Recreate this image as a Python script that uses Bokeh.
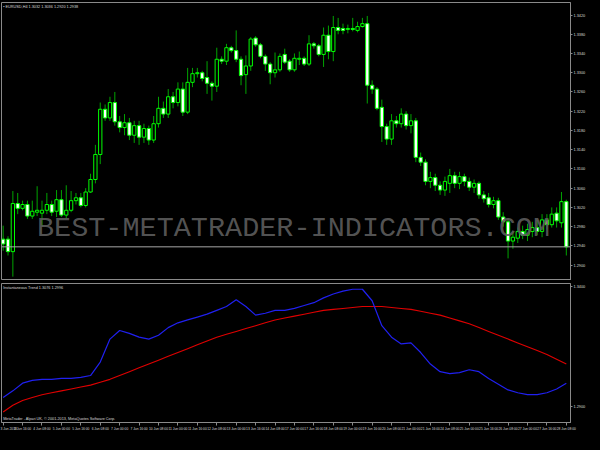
from bokeh.plotting import figure
from bokeh.models import Range1d, FixedTicker, NumeralTickFormatter, ColumnDataSource, Span, Label
from bokeh.layouts import column
from bokeh.embed import file_html
from bokeh.resources import INLINE

symbol = "EURUSD,H4"

opens = [
    1.2954, 1.2954, 1.2928, 1.3028, 1.3018, 1.3026, 1.3002, 1.3010, 1.3008, 1.3014,
    1.3026, 1.3012, 1.3036, 1.3004, 1.3014, 1.3034, 1.3040, 1.3024, 1.3052, 1.3078,
    1.3130, 1.3224, 1.3206, 1.3238, 1.3198, 1.3186, 1.3196, 1.3170, 1.3190, 1.3166,
    1.3184, 1.3160, 1.3194, 1.3226, 1.3214, 1.3250, 1.3238, 1.3266, 1.3218, 1.3280,
    1.3298, 1.3300, 1.3290, 1.3278, 1.3272, 1.3328, 1.3324, 1.3352, 1.3346, 1.3328,
    1.3296, 1.3314, 1.3372, 1.3358, 1.3334, 1.3318, 1.3300, 1.3306, 1.3338, 1.3324,
    1.3306, 1.3328, 1.3330, 1.3318, 1.3360, 1.3356, 1.3338, 1.3378, 1.3344, 1.3394,
    1.3392, 1.3390, 1.3392, 1.3388, 1.3396, 1.3402, 1.3274, 1.3266, 1.3228, 1.3188,
    1.3162, 1.3200, 1.3194, 1.3214, 1.3190, 1.3200, 1.3124, 1.3114, 1.3074, 1.3082,
    1.3066, 1.3056, 1.3070, 1.3086, 1.3070, 1.3084, 1.3074, 1.3062, 1.3070, 1.3046,
    1.3040, 1.3026, 1.3034, 1.3000, 1.2990, 1.2950, 1.2956, 1.2970, 1.2962, 1.2970,
    1.2978, 1.2970, 1.2994, 1.2984, 1.3008, 1.2988, 1.3032,
]
highs = [
    1.2982, 1.2960, 1.3054, 1.3050, 1.3034, 1.3034, 1.3034, 1.3064, 1.3034, 1.3050,
    1.3034, 1.3056, 1.3056, 1.3066, 1.3054, 1.3050, 1.3050, 1.3060, 1.3090, 1.3150,
    1.3238, 1.3234, 1.3250, 1.3260, 1.3210, 1.3214, 1.3206, 1.3200, 1.3200, 1.3194,
    1.3190, 1.3210, 1.3250, 1.3240, 1.3266, 1.3260, 1.3280, 1.3280, 1.3310, 1.3310,
    1.3310, 1.3304, 1.3324, 1.3282, 1.3352, 1.3334, 1.3360, 1.3356, 1.3388, 1.3334,
    1.3336, 1.3374, 1.3376, 1.3362, 1.3338, 1.3322, 1.3342, 1.3340, 1.3350, 1.3328,
    1.3340, 1.3344, 1.3334, 1.3378, 1.3364, 1.3360, 1.3394, 1.3398, 1.3418, 1.3414,
    1.3402, 1.3400, 1.3414, 1.3406, 1.3414, 1.3418, 1.3284, 1.3270, 1.3244, 1.3194,
    1.3214, 1.3210, 1.3226, 1.3220, 1.3214, 1.3206, 1.3134, 1.3120, 1.3094, 1.3090,
    1.3074, 1.3084, 1.3100, 1.3094, 1.3094, 1.3090, 1.3082, 1.3078, 1.3074, 1.3054,
    1.3050, 1.3042, 1.3040, 1.3010, 1.2998, 1.2970, 1.2978, 1.2982, 1.2986, 1.2990,
    1.2994, 1.3006, 1.3006, 1.3020, 1.3020, 1.3052, 1.3036,
]
lows = [
    1.2930, 1.2920, 1.2876, 1.3006, 1.3014, 1.2996, 1.2996, 1.3002, 1.2980, 1.3006,
    1.3002, 1.3000, 1.3000, 1.2998, 1.3010, 1.3026, 1.3020, 1.3020, 1.3050, 1.3070,
    1.3110, 1.3200, 1.3200, 1.3190, 1.3176, 1.3170, 1.3160, 1.3154, 1.3150, 1.3154,
    1.3150, 1.3154, 1.3186, 1.3206, 1.3206, 1.3226, 1.3230, 1.3210, 1.3214, 1.3270,
    1.3290, 1.3282, 1.3256, 1.3242, 1.3260, 1.3318, 1.3316, 1.3342, 1.3322, 1.3274,
    1.3256, 1.3304, 1.3354, 1.3330, 1.3304, 1.3276, 1.3290, 1.3302, 1.3318, 1.3302,
    1.3302, 1.3316, 1.3314, 1.3314, 1.3350, 1.3334, 1.3312, 1.3328, 1.3324, 1.3380,
    1.3380, 1.3382, 1.3386, 1.3384, 1.3394, 1.3236, 1.3256, 1.3222, 1.3156, 1.3150,
    1.3150, 1.3186, 1.3186, 1.3182, 1.3174, 1.3114, 1.3106, 1.3066, 1.3060, 1.3054,
    1.3046, 1.3044, 1.3050, 1.3060, 1.3058, 1.3064, 1.3054, 1.3050, 1.3038, 1.3030,
    1.3020, 1.3018, 1.2994, 1.2980, 1.2914, 1.2934, 1.2946, 1.2954, 1.2950, 1.2958,
    1.2962, 1.2958, 1.2974, 1.2978, 1.2978, 1.2978, 1.2920,
]
closes = [
    1.2944, 1.2928, 1.3028, 1.3018, 1.3026, 1.3002, 1.3012, 1.3014, 1.3014, 1.3026,
    1.3010, 1.3036, 1.3004, 1.3014, 1.3034, 1.3040, 1.3024, 1.3052, 1.3078, 1.3130,
    1.3224, 1.3206, 1.3238, 1.3198, 1.3186, 1.3196, 1.3170, 1.3190, 1.3166, 1.3184,
    1.3160, 1.3194, 1.3226, 1.3214, 1.3250, 1.3238, 1.3266, 1.3218, 1.3280, 1.3298,
    1.3300, 1.3288, 1.3278, 1.3272, 1.3328, 1.3324, 1.3352, 1.3346, 1.3328, 1.3294,
    1.3314, 1.3370, 1.3358, 1.3334, 1.3318, 1.3300, 1.3306, 1.3334, 1.3322, 1.3306,
    1.3330, 1.3330, 1.3318, 1.3360, 1.3356, 1.3338, 1.3378, 1.3344, 1.3394, 1.3388,
    1.3388, 1.3392, 1.3390, 1.3396, 1.3402, 1.3274, 1.3266, 1.3226, 1.3188, 1.3162,
    1.3200, 1.3194, 1.3214, 1.3190, 1.3200, 1.3124, 1.3114, 1.3074, 1.3082, 1.3066,
    1.3056, 1.3074, 1.3086, 1.3070, 1.3084, 1.3074, 1.3062, 1.3070, 1.3046, 1.3038,
    1.3026, 1.3034, 1.3000, 1.2990, 1.2950, 1.2958, 1.2970, 1.2962, 1.2974, 1.2978,
    1.2970, 1.2994, 1.2984, 1.3006, 1.2992, 1.3032, 1.2938,
]

# Instantaneous Trend indicator, sampled every second bar
trend_blue = [
    1.2936, 1.2964, 1.2996, 1.3008, 1.3012, 1.3012, 1.3016, 1.3016, 1.3020, 1.3028,
    1.3084, 1.3180, 1.3216, 1.3204, 1.3188, 1.3180, 1.3196, 1.3228, 1.3248, 1.3260,
    1.3272, 1.3284, 1.3300, 1.3316, 1.3344, 1.3316, 1.3280, 1.3288, 1.3300, 1.3300,
    1.3308, 1.3320, 1.3332, 1.3352, 1.3368, 1.3380, 1.3388, 1.3388, 1.3340, 1.3236,
    1.3188, 1.3160, 1.3164, 1.3124, 1.3076, 1.3044, 1.3036, 1.3040, 1.3052, 1.3044,
    1.3016, 1.2992, 1.2968, 1.2956, 1.2948, 1.2948, 1.2956, 1.2972, 1.2996,
]
trend_red = [
    1.2876, 1.2904, 1.2924, 1.2936, 1.2948, 1.2956, 1.2964, 1.2972, 1.2980, 1.2988,
    1.3000, 1.3012, 1.3028, 1.3044, 1.3060, 1.3076, 1.3092, 1.3108, 1.3124, 1.3140,
    1.3156, 1.3172, 1.3188, 1.3200, 1.3212, 1.3224, 1.3236, 1.3248, 1.3260, 1.3268,
    1.3276, 1.3284, 1.3292, 1.3300, 1.3304, 1.3308, 1.3312, 1.3316, 1.3316, 1.3316,
    1.3312, 1.3308, 1.3304, 1.3296, 1.3288, 1.3280, 1.3268, 1.3256, 1.3244, 1.3228,
    1.3212, 1.3196, 1.3180, 1.3164, 1.3148, 1.3132, 1.3116, 1.3096, 1.3076,
]

price_ticks = [1.3420, 1.3380, 1.3340, 1.3300, 1.3260, 1.3220, 1.3180, 1.3140,
               1.3100, 1.3060, 1.3020, 1.2980, 1.2940, 1.2900]
trend_ticks = [1.3400, 1.2900]
time_labels = ["3 Jun 2013", "3 Jun 16:00", "4 Jun 08:00", "5 Jun 00:00", "5 Jun 16:00",
               "6 Jun 08:00", "7 Jun 00:00", "7 Jun 16:00", "10 Jun 08:00", "11 Jun 00:00",
               "11 Jun 16:00", "12 Jun 08:00", "13 Jun 00:00", "13 Jun 16:00", "14 Jun 08:00",
               "17 Jun 00:00", "17 Jun 16:00", "18 Jun 08:00", "19 Jun 00:00", "19 Jun 16:00",
               "20 Jun 08:00", "21 Jun 00:00", "21 Jun 16:00", "24 Jun 08:00", "25 Jun 00:00",
               "25 Jun 16:00", "26 Jun 08:00", "27 Jun 00:00", "27 Jun 16:00", "28 Jun 08:00"]

bars = list(range(len(opens)))
trend_bars = list(range(0, len(opens), 2))
time_ticks = list(range(0, len(opens), 4))

GREY = "#8a8a8a"
TXT = "#d8d8d8"
SMALL = "3.8px"
FONT = "Liberation Sans"

X_HI = 116.86
xr = Range1d(-0.34, X_HI)
FRAME_W = 569


def style_axis(ax, ticks, tick_out, size):
    ax.ticker = FixedTicker(ticks=ticks)
    ax.axis_label = None
    ax.axis_label_standoff = 0
    ax.axis_line_color = GREY
    ax.major_tick_line_color = GREY
    ax.major_tick_out = tick_out
    ax.major_tick_in = 0
    ax.minor_tick_out = 0
    ax.minor_tick_in = 0
    ax.major_label_standoff = 1
    ax.major_label_text_font = FONT
    ax.major_label_text_font_size = size
    ax.major_label_text_color = TXT


# ---------------- main price panel ----------------
p1 = figure(frame_width=FRAME_W, frame_height=278, x_range=xr, y_range=Range1d(1.2868, 1.3446),
            x_axis_location=None, y_axis_location="right", title=None,
            toolbar_location=None, output_backend="svg",
            background_fill_color="black", border_fill_color="black",
            outline_line_color=GREY, outline_line_width=1,
            min_border_left=1, min_border_right=0, min_border_top=2, min_border_bottom=0)
p1.grid.visible = False
style_axis(p1.yaxis[0], price_ticks, 2, SMALL)
p1.yaxis[0].formatter = NumeralTickFormatter(format="0.0000")

p1.segment(x0=bars, y0=lows, x1=bars, y1=highs, line_color="#00a400", line_width=1)

bull = [i for i in bars if closes[i] >= opens[i]]
bear = [i for i in bars if closes[i] < opens[i]]
src_bull = ColumnDataSource(dict(x=bull, top=[closes[i] for i in bull], bottom=[opens[i] for i in bull]))
src_bear = ColumnDataSource(dict(x=bear, top=[opens[i] for i in bear], bottom=[closes[i] for i in bear]))
p1.vbar(x="x", top="top", bottom="bottom", width=0.68, source=src_bull,
        fill_color="black", line_color="#00ff00", line_width=1)
p1.vbar(x="x", top="top", bottom="bottom", width=0.68, source=src_bear,
        fill_color="white", line_color="#00ff00", line_width=1)

p1.add_layout(Span(location=closes[-1], dimension="width", line_color="#a8a8a8", line_width=1))

wm = Label(x=59.8, y=1.2976, text="BEST-METATRADER-INDICATORS.COM",
           text_font="Liberation Mono", text_font_size="28.5px", text_color="#5e5e5e",
           text_alpha=0.9, text_align="center", text_baseline="middle")
p1.add_layout(wm)

title1 = "\u25aa " + symbol + " " + " ".join(f"{v:.4f}" for v in (opens[-1], highs[-1], lows[-1], closes[-1]))
p1.add_layout(Label(x=0.0, y=1.3436, text=title1, text_font=FONT, text_font_size=SMALL,
                    text_color=TXT, text_baseline="middle"))
p1.add_layout(Label(x=X_HI, x_offset=2, y=closes[-1], text=f"{closes[-1]:.4f}", text_font=FONT,
                    text_font_size=SMALL, text_color="black", text_baseline="middle",
                    background_fill_color="#c8c8c8"))

# ---------------- indicator panel ----------------
p2 = figure(frame_width=FRAME_W, frame_height=139, x_range=xr, y_range=Range1d(1.2832, 1.3412),
            x_axis_location="below", y_axis_location="right", title=None,
            toolbar_location=None, output_backend="svg",
            background_fill_color="black", border_fill_color="black",
            outline_line_color=GREY, outline_line_width=1,
            min_border_left=1, min_border_right=0, min_border_top=3, min_border_bottom=0)
p2.grid.visible = False
style_axis(p2.yaxis[0], trend_ticks, 2, SMALL)
p2.yaxis[0].formatter = NumeralTickFormatter(format="0.0000")
xa = p2.xaxis[0]
style_axis(xa, time_ticks, 3, "3.3px")
xa.major_label_overrides = {t: s for t, s in zip(time_ticks, time_labels)}
xa.major_label_text_align = "left"

p2.line(trend_bars, trend_red, line_color="#e00000", line_width=1.1)
p2.line(trend_bars, trend_blue, line_color="#2020f0", line_width=1.2)

title2 = f"Instantaneous Trend {trend_red[-1]:.4f} {trend_blue[-1]:.4f}"
p2.add_layout(Label(x=0.0, y=1.3392, text=title2, text_font=FONT, text_font_size=SMALL,
                    text_color=TXT, text_baseline="middle"))
p2.add_layout(Label(x=0.0, y=1.2848, text="MetaTrader - Alpari UK, \u00a9 2001-2013, MetaQuotes Software Corp.",
                    text_font=FONT, text_font_size=SMALL, text_color=TXT, text_baseline="middle"))

layout = column(p1, p2, spacing=0)
html = file_html(layout, INLINE)
html = html.replace("<head>", "<head><style>html,body{background:#000;}</style>", 1)
open("out.html", "w").write(html)
